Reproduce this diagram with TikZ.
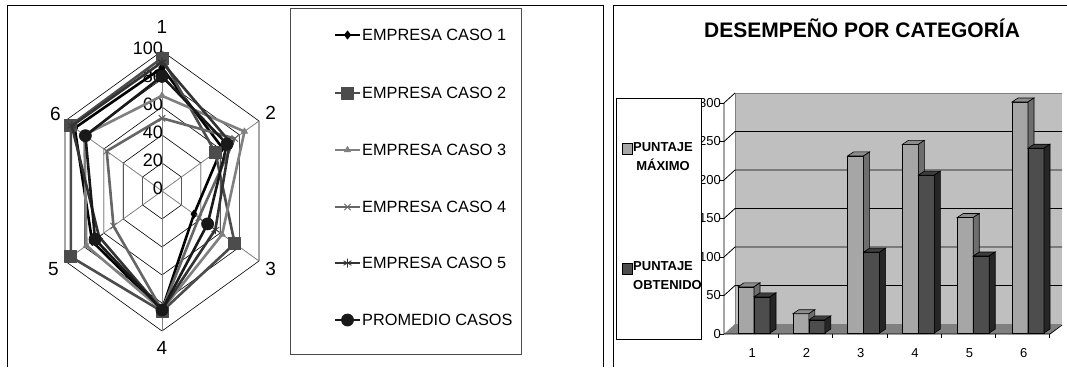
\documentclass[tikz,border=0pt]{standalone}
\usepackage{fontspec}
\setmainfont{Liberation Sans}
\usetikzlibrary{plotmarks}

\definecolor{barclaro}{HTML}{A6A6A6}
\definecolor{barclarolado}{HTML}{6E6E6E}
\definecolor{barclarotapa}{HTML}{8C8C8C}
\definecolor{baroscuro}{HTML}{4D4D4D}
\definecolor{baroscurolado}{HTML}{262626}
\definecolor{baroscurotapa}{HTML}{3D3D3D}

\tikzset{
  serie/.style={line width=2.6pt, line join=round, mark options={solid, line width=0.8pt}},
  caso1/.style={black, mark=diamond*, mark size=4pt},
  caso2/.style={black!70, mark=square*, mark size=6pt},
  caso3/.style={black!50, mark=triangle*, mark size=3.5pt},
  caso4/.style={black!60, mark=x, mark size=4.5pt},
  caso5/.style={black!80, mark=asterisk, mark size=4.5pt},
  promedio/.style={black!90, mark=*, mark size=6pt},
  anillo/.style={black, line width=0.6pt},
  eje/.style={black!50, line width=0.8pt},
  leyenda/.style={font=\fontsize{16.3}{19}\selectfont, inner sep=1pt},
  cifra/.style={font=\fontsize{13}{15}\selectfont, inner sep=0pt},
  rotulo/.style={font=\bfseries\fontsize{13}{19}\selectfont, inner sep=0pt}
}

\begin{document}
\begin{tikzpicture}[x=1pt,y=-1pt]
\useasboundingbox (0,0) rectangle (1067,367);

% marcos
\draw[line width=0.8pt] (7,367) -- (7,5) -- (603,5) -- (603,367);
\draw[line width=0.8pt] (613,367) -- (613,5) -- (1067,5);

% radar
\begin{scope}[shift={(162,191)}, x=1.12pt, y=1.40pt]
  \foreach \r in {20,40,...,100}
    \draw[anillo] (90:\r) -- (30:\r) -- (-30:\r) -- (-90:\r) -- (-150:\r) -- (150:\r) -- cycle;
  \foreach \a in {90,30,-30,-90,-150,150}
    \draw[eje] (0,0) -- (\a:100);
  \foreach \r in {0,20,...,100}
    \node[font=\fontsize{18}{21}\selectfont, anchor=east, inner sep=0pt] (valor-\r) at (1,\r+2) {\r};
  \node[font=\fontsize{19}{22}\selectfont] (cat-1) at (90:117) {1};
  \node[font=\fontsize{19}{22}\selectfont] (cat-2) at (30:112) {2};
  \node[font=\fontsize{19}{22}\selectfont] (cat-3) at (-30:112) {3};
  \node[font=\fontsize{19}{22}\selectfont] (cat-4) at (-90:112) {4};
  \node[font=\fontsize{19}{22}\selectfont] (cat-5) at (-150:112) {5};
  \node[font=\fontsize{19}{22}\selectfont] (cat-6) at (150:110) {6};
  \draw[serie,caso1] plot coordinates {(90:88) (30:62) (-30:33) (-90:85) (-150:72) (150:90) (90:88)};
  \draw[serie,caso2] plot coordinates {(90:95) (30:55) (-30:75) (-90:86) (-150:94) (150:94) (90:95)};
  \draw[serie,caso3] plot coordinates {(90:68) (30:85) (-30:62) (-90:85) (-150:78) (150:80) (90:68)};
  \draw[serie,caso4] plot coordinates {(90:52) (30:75) (-30:38) (-90:85) (-150:50) (150:57) (90:52)};
  \draw[serie,caso5] plot coordinates {(90:92) (30:70) (-30:55) (-90:85) (-150:65) (150:93) (90:92)};
  \draw[serie,promedio] plot coordinates {(90:82) (30:67) (-30:47) (-90:85) (-150:69) (150:79) (90:82)};
\end{scope}

% leyenda del radar
\draw[black!70, line width=0.8pt] (290,8) rectangle (521,354);
\foreach \s/\t/\y in {caso1/EMPRESA CASO 1/35, caso2/EMPRESA CASO 2/93, caso3/EMPRESA CASO 3/150,
    caso4/EMPRESA CASO 4/207, caso5/EMPRESA CASO 5/263, promedio/PROMEDIO CASOS/320}{
  \draw[serie,\s,mark indices={2}] plot coordinates {(335,\y) (347.5,\y) (360,\y)};
  \node[leyenda, anchor=west] (ley-\s) at (361,\y) {\t};
}

% titulo
\node[font=\bfseries\fontsize{21}{25}\selectfont] (titulo) at (862,28) {DESEMPEÑO POR CATEGORÍA};

% paredes y suelo
\fill[black!25] (735,93) rectangle (1062,324);
\draw[black!50, line width=0.8pt] (735,324) -- (735,93) -- (1062,93);
\fill[black!50] (724,334) -- (735,324) -- (1062,324) -- (1050,334) -- cycle;
\foreach \k in {1,...,5}
  \draw[line width=0.8pt] (724,334-38.5*\k) -- ++(11,-10) -- (1062,324-38.5*\k);
\draw[line width=0.8pt] (724,103) -- (735,93);

% ejes
\draw[line width=0.8pt] (724,103) -- (724,334) -- (1050,334) -- (1062,325);
\foreach \k/\v in {0/0,1/50,2/100,3/150,4/200,5/250,6/300}{
  \draw[line width=0.8pt] (720,334-38.5*\k) -- (724,334-38.5*\k);
  \node[cifra, anchor=east] (ejey-\k) at (721,334-38.5*\k) {\v};
}
\foreach \i in {1,...,6}{
  \draw[line width=0.8pt] (724+54.3*\i,334) -- ++(0,4);
  \node[cifra] (ejex-\i) at (697.9+54.3*\i,353) {\i};
}

% barras
\foreach \i/\a/\b in {1/60/47, 2/25/17, 3/230/105, 4/245/205, 5/150/100, 6/300/240}{
  \pgfmathsetmacro\xa{738+54.8*(\i-1)}
  \pgfmathsetmacro\xb{\xa+16}
  \pgfmathsetmacro\ha{0.77*\a}
  \pgfmathsetmacro\hb{0.77*\b}
  \draw[fill=barclaro, line width=0.6pt] (\xa,333) rectangle (\xb,333-\ha);
  \draw[fill=barclarotapa, line width=0.6pt] (\xa,333-\ha) -- ++(6,-4) -- ++(16,0) -- ++(-6,4) -- cycle;
  \draw[fill=barclarolado, line width=0.6pt] (\xb,333) -- (\xb,333-\ha) -- ++(6,-4) -- ++(0,\ha) -- cycle;
  \draw[fill=baroscuro, line width=0.6pt] (\xb,333) rectangle (\xb+16,333-\hb);
  \draw[fill=baroscurotapa, line width=0.6pt] (\xb,333-\hb) -- ++(6,-4) -- ++(16,0) -- ++(-6,4) -- cycle;
  \draw[fill=baroscurolado, line width=0.6pt] (\xb+16,333) -- (\xb+16,333-\hb) -- ++(6,-4) -- ++(0,\hb) -- cycle;
}

% leyenda de barras
\draw[fill=white, line width=0.8pt] (616,98) rectangle (701,339);
\draw[fill=barclaro, line width=0.6pt] (622,143) rectangle (632,154);
\node[rotulo, align=center] (ley-max) at (663,157) {PUNTAJE\\MÁXIMO};
\draw[fill=baroscuro, line width=0.6pt] (622,263) rectangle (632,274);
\node[rotulo, align=left, anchor=west] (ley-obt) at (633,276) {PUNTAJE\\OBTENIDO};
\end{tikzpicture}
\end{document}
